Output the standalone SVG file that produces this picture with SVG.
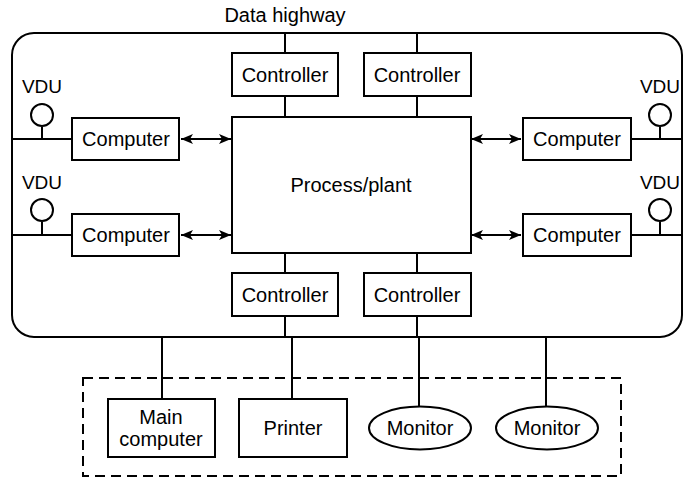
<svg xmlns="http://www.w3.org/2000/svg" width="684" height="480" viewBox="0 0 684 480">
<defs>
<style>
.b{fill:#fff;stroke:#000;stroke-width:2}
.l{fill:none;stroke:#000;stroke-width:2}
.a{fill:none;stroke:#000;stroke-width:2;marker-start:url(#ah);marker-end:url(#ah)}
.t{font-family:"Liberation Sans",Arial,sans-serif;font-size:20px;fill:#000;text-anchor:middle}
.v{font-family:"Liberation Sans",Arial,sans-serif;font-size:19px;fill:#000;text-anchor:middle}
</style>
<marker id="ah" viewBox="0 0 12 10" refX="12" refY="5" markerWidth="12" markerHeight="10" markerUnits="userSpaceOnUse" orient="auto-start-reverse">
<path d="M0,0 L12,5 L0,10 L3,5 z" fill="#000"/>
</marker>
</defs>
<rect width="684" height="480" fill="#fff"/>
<g id="connectors">
<rect class="l" x="12" y="33" width="670" height="304" rx="22"/>
<text class="t" x="285" y="22">Data highway</text>
<path class="l" d="M285,33V53M417,33V53M285,96V117M417,96V117M285,253V273M417,253V273M285,316V337M417,316V337"/>
<path class="l" d="M12,139H72M12,235H72M631,139H682M631,235H682"/>
<path class="l" d="M42,127V139M42,222V235M660,127V139M660,222V235"/>
<line class="a" x1="181" y1="139" x2="231" y2="139"/>
<line class="a" x1="181" y1="235" x2="231" y2="235"/>
<line class="a" x1="471" y1="139" x2="521" y2="139"/>
<line class="a" x1="471" y1="235" x2="521" y2="235"/>
<path class="l" d="M162,337V399M292,337V399M419,337V406M546,337V406"/>
<rect x="83" y="378" width="538" height="98" fill="none" stroke="#000" stroke-width="2" stroke-dasharray="10,6"/>
</g>
<g id="process"><rect class="b" x="232" y="117" width="239" height="136"/><text class="t" x="351" y="192">Process/plant</text></g>
<g id="ctrl-tl"><rect class="b" x="232" y="53" width="106" height="43"/><text class="t" x="285" y="82">Controller</text></g>
<g id="ctrl-tr"><rect class="b" x="364" y="53" width="107" height="43"/><text class="t" x="417" y="82">Controller</text></g>
<g id="ctrl-bl"><rect class="b" x="232" y="273" width="106" height="43"/><text class="t" x="285" y="302">Controller</text></g>
<g id="ctrl-br"><rect class="b" x="364" y="273" width="107" height="43"/><text class="t" x="417" y="302">Controller</text></g>
<g id="comp-tl"><rect class="b" x="72" y="118" width="107" height="42"/><text class="t" x="126" y="146">Computer</text></g>
<g id="comp-bl"><rect class="b" x="72" y="214" width="107" height="42"/><text class="t" x="126" y="242">Computer</text></g>
<g id="comp-tr"><rect class="b" x="523" y="118" width="108" height="42"/><text class="t" x="577" y="146">Computer</text></g>
<g id="comp-br"><rect class="b" x="523" y="214" width="108" height="42"/><text class="t" x="577" y="242">Computer</text></g>
<g id="vdu-tl"><circle class="b" cx="42" cy="115" r="11"/><text class="v" x="42" y="93">VDU</text></g>
<g id="vdu-bl"><circle class="b" cx="42" cy="210" r="11"/><text class="v" x="42" y="189">VDU</text></g>
<g id="vdu-tr"><circle class="b" cx="660" cy="115" r="11"/><text class="v" x="660" y="93">VDU</text></g>
<g id="vdu-br"><circle class="b" cx="660" cy="210" r="11"/><text class="v" x="660" y="189">VDU</text></g>
<g id="main-computer"><rect class="b" x="108" y="399" width="107" height="58"/><text class="t" x="161" y="424">Main</text><text class="t" x="161" y="446">computer</text></g>
<g id="printer"><rect class="b" x="239" y="399" width="108" height="58"/><text class="t" x="293" y="435">Printer</text></g>
<g id="monitor1"><ellipse class="b" cx="420" cy="428" rx="51" ry="21.5"/><text class="t" x="420" y="435">Monitor</text></g>
<g id="monitor2"><ellipse class="b" cx="547" cy="428" rx="51" ry="21.5"/><text class="t" x="547" y="435">Monitor</text></g>
</svg>
